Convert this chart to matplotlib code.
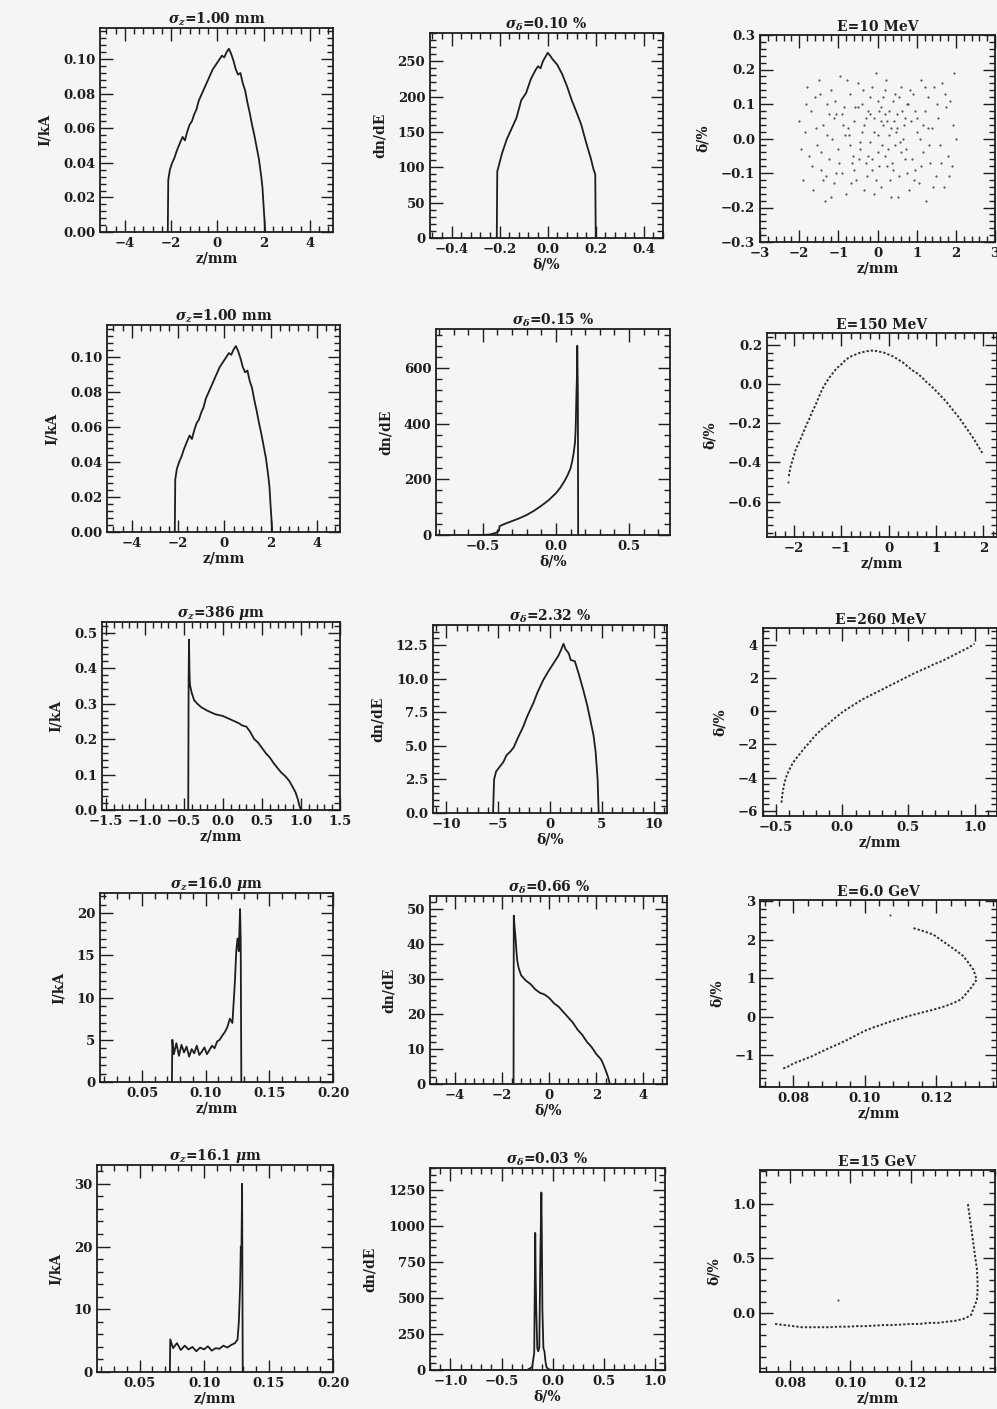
import matplotlib
matplotlib.use("Agg")
import matplotlib.pyplot as plt
from matplotlib.ticker import FixedLocator, MultipleLocator, FuncFormatter

plt.rcParams['font.family'] = ['DejaVu Serif']
plt.rcParams['font.weight'] = 'bold'
plt.rcParams['mathtext.fontset'] = 'dejavuserif'

INK = '#1e1e1e'
BG = '#f5f5f3'

# ---- row 1/2 left: initial current profile (sigma_z = 1 mm)
prof0_z = [-2.14, -2.12, -2.05, -1.95, -1.85, -1.75, -1.6, -1.5, -1.4, -1.3, -1.2, -1.1, -1.0, -0.9,
           -0.8, -0.7, -0.6, -0.5, -0.4, -0.3, -0.2, -0.1, 0.0, 0.1, 0.2, 0.3, 0.4, 0.5, 0.6, 0.7,
           0.8, 0.9, 1.0, 1.1, 1.2, 1.3, 1.4, 1.5, 1.6, 1.7, 1.8, 1.9, 1.95, 2.0, 2.05, 2.07]
prof0_i = [0.0, 0.03, 0.036, 0.040, 0.043, 0.047, 0.052, 0.055, 0.053, 0.058, 0.062, 0.064, 0.068,
           0.071, 0.076, 0.079, 0.082, 0.085, 0.088, 0.091, 0.094, 0.096, 0.098, 0.100, 0.102, 0.101,
           0.104, 0.106, 0.103, 0.099, 0.094, 0.091, 0.092, 0.086, 0.082, 0.075, 0.069, 0.062, 0.056,
           0.049, 0.042, 0.032, 0.026, 0.015, 0.005, 0.0]

# ---- row 1 middle: energy spread at 10 MeV
e10_d = [-0.212, -0.21, -0.19, -0.17, -0.15, -0.13, -0.11, -0.09, -0.07, -0.05, -0.04, -0.03, -0.02,
         -0.01, 0.0, 0.01, 0.02, 0.04, 0.06, 0.08, 0.10, 0.12, 0.14, 0.16, 0.18, 0.19, 0.198, 0.2]
e10_n = [0, 94, 120, 140, 155, 170, 195, 205, 225, 238, 243, 240, 250, 256, 262, 258, 253, 245, 232,
         215, 195, 178, 160, 135, 112, 98, 90, 0]

ps10_z = [-2.0, -1.9, -1.85, -1.8, -1.75, -1.7, -1.65, -1.6, -1.55, -1.5, -1.45, -1.4, -1.35, -1.3,
          -1.25, -1.2, -1.15, -1.1, -1.05, -1.0, -0.95, -0.9, -0.85, -0.8, -0.75, -0.7, -0.65, -0.6,
          -0.55, -0.5, -0.45, -0.4, -0.35, -0.3, -0.25, -0.2, -0.15, -0.1, -0.05, 0.0, 0.05, 0.1,
          0.15, 0.2, 0.25, 0.3, 0.35, 0.4, 0.45, 0.5, 0.55, 0.6, 0.65, 0.7, 0.75, 0.8, 0.85, 0.9,
          0.95, 1.0, 1.05, 1.1, 1.15, 1.2, 1.25, 1.3, 1.35, 1.4, 1.45, 1.5, 1.55, 1.6, 1.65, 1.7,
          1.75, 1.8, 1.85, 1.9, 1.95, 2.0,
          -1.95, -1.82, -1.68, -1.58, -1.47, -1.38, -1.28, -1.18, -1.08, -0.98, -0.88, -0.78, -0.68,
          -0.58, -0.48, -0.38, -0.28, -0.18, -0.08, 0.02, 0.12, 0.22, 0.32, 0.42, 0.52, 0.62, 0.72,
          0.82, 0.92, 1.02, 1.12, 1.22, 1.32, 1.42, 1.52, 1.62, 1.72, 1.82, 1.92,
          -0.9, -0.7, -0.5, -0.3, -0.1, 0.0, 0.1, 0.2, 0.3, 0.4, 0.5, 0.6, 0.7, -0.6, -0.4, -0.2,
          0.15, 0.35, 0.55, 0.75, 0.95, 1.15, -1.05, -1.25, -1.45, 0.05, 0.25, -0.05, 0.45, -0.15,
          -0.35, -0.15, 0.08, 0.28, 0.48, 0.68, -0.62, -0.82, 0.88, 1.08, 1.28, -1.12, -1.32,
          -0.25, 0.18, 0.38, 0.58, -0.45, 0.78, -0.72]
ps10_d = [0.05, -0.12, 0.02, 0.15, -0.05, 0.08, -0.15, 0.12, -0.02, 0.17, -0.09, 0.04, -0.18, 0.10,
          -0.06, 0.14, 0.0, -0.13, 0.07, -0.03, 0.18, -0.10, 0.09, -0.16, 0.03, 0.13, -0.07, 0.05,
          -0.12, 0.16, -0.01, 0.10, -0.15, 0.06, -0.05, 0.12, -0.09, 0.02, 0.19, -0.04, 0.08, -0.14,
          0.04, 0.14, -0.08, 0.01, -0.17, 0.11, -0.02, 0.07, -0.11, 0.15, 0.0, -0.06, 0.10, -0.15,
          0.05, 0.13, -0.09, 0.02, -0.13, 0.17, -0.04, 0.08, -0.18, 0.12, -0.07, 0.03, 0.15, -0.11,
          0.06, -0.02, 0.16, -0.14, 0.09, -0.05, 0.11, -0.08, 0.19, 0.0,
          -0.03, 0.10, -0.08, 0.03, 0.13, -0.12, 0.01, -0.17, 0.11, -0.07, 0.04, 0.17, -0.13, 0.09,
          -0.06, 0.14, -0.11, 0.07, -0.16, 0.11, -0.02, 0.17, -0.12, 0.05, -0.17, 0.08, -0.03, 0.14,
          -0.12, 0.06, -0.08, 0.15, -0.02, -0.14, 0.10, -0.07, 0.13, -0.11, 0.04,
          0.07, -0.02, 0.09, -0.07, 0.06, 0.01, 0.09, -0.05, 0.08, -0.09, 0.03, -0.04, 0.06, -0.09,
          0.02, -0.01, 0.12, 0.03, 0.12, -0.10, 0.08, 0.04, -0.10, 0.07, -0.04, -0.08, 0.05, -0.12,
          0.13, 0.15,
          0.04, -0.06, 0.05, -0.03, 0.02, 0.04, -0.05, 0.01, -0.06, 0.0, 0.03, 0.06, -0.11,
          0.08, 0.07, -0.07, -0.01, -0.03, 0.10, 0.01]

# ---- row 2 middle: energy spread at 150 MeV
e150_d = [-0.55, -0.5, -0.45, -0.41, -0.39, -0.385, -0.35, -0.3, -0.25, -0.2, -0.15, -0.1, -0.05,
          0.0, 0.03, 0.06, 0.08, 0.1, 0.11, 0.12, 0.13, 0.135, 0.14, 0.143, 0.146, 0.15, 0.152]
e150_n = [0, 0, 2, 8, 15, 32, 40, 50, 60, 72, 87, 105, 125, 150, 170, 195, 215, 240, 262, 290, 330,
          380, 500, 560, 680, 500, 0]

# ---- row 2 right: phase space at 150 MeV
ps150_z = [-2.11, -2.07, -2.02, -1.97, -1.92, -1.86, -1.80, -1.74, -1.68, -1.62, -1.55, -1.48,
           -1.41, -1.34, -1.26, -1.18, -1.10, -1.0, -0.9, -0.8, -0.7, -0.6, -0.5, -0.4, -0.3, -0.2,
           -0.1, 0.0, 0.1, 0.2, 0.3, 0.4, 0.5, 0.6, 0.7, 0.8, 0.9, 1.0, 1.1, 1.2, 1.3, 1.4, 1.5,
           1.6, 1.7, 1.8, 1.9, 2.0]
ps150_d = [-0.47, -0.42, -0.38, -0.34, -0.31, -0.28, -0.245, -0.21, -0.18, -0.145, -0.11,
           -0.07, -0.03, 0.0, 0.03, 0.055, 0.08, 0.10, 0.125, 0.14, 0.15, 0.16, 0.165, 0.17, 0.17,
           0.165, 0.16, 0.15, 0.14, 0.125, 0.11, 0.09, 0.07, 0.055, 0.035, 0.01, -0.01, -0.035,
           -0.06, -0.085, -0.115, -0.145, -0.175, -0.21, -0.245, -0.28, -0.32, -0.36]
ps150_stray_z = [-2.13]
ps150_stray_d = [-0.50]

# ---- row 3 left: current profile, sigma_z = 386 um
prof386_z = [-0.445, -0.44, -0.435, -0.43, -0.425, -0.42, -0.40, -0.37, -0.33, -0.28, -0.2, -0.1,
             0.0, 0.1, 0.2, 0.25, 0.3, 0.35, 0.4, 0.45, 0.5, 0.55, 0.6, 0.65, 0.7, 0.75, 0.8, 0.85,
             0.9, 0.93, 0.96, 0.98, 1.0]
prof386_i = [0, 0.36, 0.48, 0.40, 0.36, 0.35, 0.33, 0.31, 0.30, 0.29, 0.28, 0.27, 0.265, 0.255,
             0.245, 0.238, 0.235, 0.22, 0.20, 0.19, 0.175, 0.16, 0.148, 0.132, 0.118, 0.105, 0.095,
             0.082, 0.062, 0.05, 0.03, 0.012, 0.0]

# ---- row 3 middle: energy spread at 260 MeV
e260_d = [-5.5, -5.4, -5.2, -4.9, -4.5, -4.2, -3.8, -3.5, -3.1, -2.6, -2.2, -1.6, -1.2, -0.65,
          -0.2, 0.3, 0.8, 1.1, 1.3, 1.5, 1.8, 2.0, 2.4, 2.8, 3.2, 3.6, 3.9, 4.2, 4.4, 4.6, 4.7]
e260_n = [0, 2.5, 3.1, 3.4, 3.8, 4.3, 4.6, 4.9, 5.6, 6.4, 7.2, 8.2, 9.0, 9.9, 10.5, 11.1, 11.7,
          12.2, 12.6, 12.2, 11.9, 11.4, 11.3, 10.3, 9.2, 8.0, 6.9, 5.8, 4.6, 2.5, 0]

# ---- row 3 right: phase space at 260 MeV
ps260_z = [-0.46, -0.455, -0.45, -0.44, -0.43, -0.42, -0.40, -0.38, -0.36, -0.34, -0.31, -0.28,
           -0.25, -0.22, -0.19, -0.15, -0.11, -0.07, -0.03, 0.01, 0.05, 0.1, 0.15, 0.2, 0.25, 0.3,
           0.35, 0.4, 0.45, 0.5, 0.55, 0.6, 0.65, 0.7, 0.75, 0.8, 0.85, 0.9, 0.95, 1.0]
ps260_d = [-5.5, -5.1, -4.8, -4.4, -4.1, -3.85, -3.5, -3.2, -2.95, -2.75, -2.45, -2.15, -1.9, -1.6,
           -1.35, -1.05, -0.8, -0.5, -0.25, 0.0, 0.2, 0.45, 0.7, 0.9, 1.1, 1.3, 1.5, 1.7, 1.9, 2.1,
           2.3, 2.48, 2.65, 2.85, 3.0, 3.2, 3.4, 3.6, 3.8, 4.05]

# ---- row 4 left: current profile, sigma_z = 16.0 um
prof16_z = [0.0735, 0.0738, 0.075, 0.077, 0.079, 0.081, 0.083, 0.085, 0.087, 0.089, 0.091, 0.093,
            0.095, 0.097, 0.099, 0.101, 0.103, 0.105, 0.107, 0.109, 0.111, 0.113, 0.115, 0.117,
            0.119, 0.121, 0.122, 0.123, 0.124, 0.125, 0.126, 0.127, 0.1275, 0.128]
prof16_i = [0, 5.0, 3.3, 4.6, 3.1, 4.4, 3.5, 4.2, 3.0, 3.9, 3.4, 4.3, 3.2, 3.6, 4.1, 3.3, 3.8, 4.3,
            4.0, 4.8, 5.0, 5.5, 5.9, 6.5, 7.5, 7.0, 9.5, 12.0, 15.5, 17.0, 15.5, 20.5, 17.0, 0]

# ---- row 4 middle: energy spread at 6 GeV
e6_d = [-1.52, -1.51, -1.48, -1.44, -1.4, -1.36, -1.3, -1.2, -1.0, -0.8, -0.6, -0.4, -0.2, 0.0,
        0.2, 0.4, 0.6, 0.8, 1.0, 1.2, 1.4, 1.6, 1.8, 2.0, 2.2, 2.3, 2.4, 2.5, 2.57]
e6_n = [0, 48, 45, 42, 38, 35, 33, 31, 29.5, 28.5, 27, 26, 25.5, 24.5, 23, 22, 20.5, 19, 17.5, 15.5,
        14, 12, 10.5, 8.5, 7, 5.5, 3.8, 1.9, 0]

# ---- row 4 right: phase space at 6 GeV
ps6_z = [0.0772, 0.0785, 0.08, 0.0825, 0.085, 0.0875, 0.09, 0.0925, 0.095, 0.0975, 0.1, 0.1025,
         0.105, 0.1075, 0.11, 0.1125, 0.115, 0.1175, 0.12, 0.1225, 0.125, 0.127, 0.1285, 0.13,
         0.1313, 0.131, 0.1304, 0.129, 0.1276, 0.1258, 0.1238, 0.1215, 0.1192, 0.1165, 0.1136]
ps6_d = [-1.35, -1.3, -1.22, -1.13, -1.04, -0.93, -0.82, -0.72, -0.61, -0.49, -0.37, -0.28, -0.2,
         -0.12, -0.05, 0.02, 0.08, 0.14, 0.2, 0.27, 0.36, 0.45, 0.61, 0.78, 0.96, 1.05, 1.22, 1.4,
         1.57, 1.7, 1.83, 1.98, 2.13, 2.22, 2.3]
ps6_stray_z = [0.107]
ps6_stray_d = [2.65]

# ---- row 5 left: current profile, sigma_z = 16.1 um
prof161_z = [0.0735, 0.0738, 0.076, 0.079, 0.082, 0.085, 0.088, 0.091, 0.094, 0.097, 0.100, 0.103,
             0.106, 0.109, 0.112, 0.115, 0.118, 0.121, 0.124, 0.126, 0.127, 0.128, 0.1285, 0.129,
             0.1295, 0.13]
prof161_i = [0, 5.2, 3.8, 4.6, 3.5, 4.2, 3.6, 4.0, 3.3, 3.9, 3.6, 4.1, 3.4, 3.8, 3.7, 4.2, 3.9, 4.3,
             4.6, 5.2, 8.0, 14.0, 20.0, 19.0, 30.0, 0]

# ---- row 5 middle: energy spread at 15 GeV
e15_d = [-1.1, -0.25, -0.2, -0.18, -0.17, -0.165, -0.16, -0.15, -0.14, -0.13, -0.12, -0.11, -0.105,
         -0.1, -0.09, -0.08, -0.07, -0.06, -0.04, 0.0, 1.1]
e15_n = [0, 0, 20, 120, 950, 620, 420, 150, 130, 160, 800, 1230, 900, 420, 150, 130, 60, 20, 5, 0, 0]

# ---- row 5 right: phase space at 15 GeV
ps15_z = [0.075, 0.078, 0.081, 0.084, 0.087, 0.09, 0.093, 0.096, 0.099, 0.102, 0.105, 0.108, 0.111,
          0.114, 0.117, 0.12, 0.123, 0.126, 0.129, 0.132, 0.135, 0.138, 0.14, 0.141, 0.142, 0.1422,
          0.1422, 0.142, 0.1415, 0.141, 0.1405, 0.140, 0.1395, 0.139]
ps15_d = [-0.1, -0.11, -0.12, -0.13, -0.13, -0.13, -0.13, -0.125, -0.125, -0.12, -0.12, -0.115,
          -0.11, -0.11, -0.105, -0.1, -0.1, -0.09, -0.09, -0.08, -0.07, -0.05, -0.02, 0.05, 0.12,
          0.2, 0.3, 0.4, 0.5, 0.6, 0.7, 0.8, 0.9, 1.0]
ps15_stray_z = [0.096]
ps15_stray_d = [0.12]

titles = [
    [r'$\sigma_z$=1.00 mm', r'$\sigma_\delta$=0.10 %', 'E=10 MeV'],
    [r'$\sigma_z$=1.00 mm', r'$\sigma_\delta$=0.15 %', 'E=150 MeV'],
    [r'$\sigma_z$=386 $\mu$m', r'$\sigma_\delta$=2.32 %', 'E=260 MeV'],
    [r'$\sigma_z$=16.0 $\mu$m', r'$\sigma_\delta$=0.66 %', 'E=6.0 GeV'],
    [r'$\sigma_z$=16.1 $\mu$m', r'$\sigma_\delta$=0.03 %', 'E=15 GeV'],
]

# panel boxes in pixels: left, top, right, bottom
boxes = [
    [(100, 28, 333, 232), (430, 33, 663, 238), (760, 35, 995, 242)],
    [(107, 325, 340, 532), (436, 329, 670, 535), (767, 333, 997, 537)],
    [(102, 622, 340, 810), (433, 625, 667, 813), (763, 628, 997, 816)],
    [(100, 893, 333, 1082), (430, 896, 667, 1084), (760, 900, 997, 1087)],
    [(97, 1165, 333, 1372), (430, 1168, 665, 1370), (760, 1170, 995, 1372)],
]

# (xlim, ylim, xticks, yticks, xdecimals, ydecimals)
axes_cfg = [
    [((-5.07, 5.0), (0, 0.118), [-4, -2, 0, 2, 4], [0, .02, .04, .06, .08, .10], 0, 2),
     ((-0.49, 0.48), (0, 290), [-.4, -.2, 0, .2, .4], [0, 50, 100, 150, 200, 250], 1, 0),
     ((-3, 3), (-0.3, 0.3), [-3, -2, -1, 0, 1, 2, 3], [-.3, -.2, -.1, 0, .1, .2, .3], 0, 1)],
    [((-5.07, 5.0), (0, 0.118), [-4, -2, 0, 2, 4], [0, .02, .04, .06, .08, .10], 0, 2),
     ((-0.82, 0.78), (0, 740), [-.5, 0, .5], [0, 200, 400, 600], 1, 0),
     ((-2.57, 2.29), (-0.78, 0.26), [-2, -1, 0, 1, 2], [-.6, -.4, -.2, 0, .2], 0, 1)],
    [((-1.55, 1.5), (0, 0.53), [-1.5, -1, -.5, 0, .5, 1, 1.5], [0, .1, .2, .3, .4, .5], 1, 1),
     ((-11.3, 11.3), (0, 14), [-10, -5, 0, 5, 10], [0, 2.5, 5, 7.5, 10, 12.5], 0, 1),
     ((-0.6, 1.17), (-6.3, 5.0), [-.5, 0, .5, 1], [-6, -4, -2, 0, 2, 4], 1, 0)],
    [((0.017, 0.2), (0, 22.4), [.05, .10, .15, .20], [0, 5, 10, 15, 20], 2, 0),
     ((-5.07, 5.0), (0, 53.6), [-4, -2, 0, 2, 4], [0, 10, 20, 30, 40, 50], 0, 0),
     ((0.0707, 0.137), (-1.83, 3.03), [.08, .10, .12], [-1, 0, 1, 2, 3], 2, 0)],
    [((0.017, 0.2), (0, 33), [.05, .10, .15, .20], [0, 10, 20, 30], 2, 0),
     ((-1.2, 1.1), (0, 1400), [-1, -.5, 0, .5, 1], [0, 250, 500, 750, 1000, 1250], 1, 0),
     ((0.07, 0.148), (-0.54, 1.31), [.08, .10, .12], [0, .5, 1.0], 2, 1)],
]

xlabels = ['z/mm', 'δ/%', 'z/mm']
ylabels = ['I/kA', 'dn/dE', 'δ/%']

lines = [
    [(prof0_z, prof0_i), (e10_d, e10_n), (ps10_z, ps10_d)],
    [(prof0_z, prof0_i), (e150_d, e150_n), (ps150_z, ps150_d)],
    [(prof386_z, prof386_i), (e260_d, e260_n), (ps260_z, ps260_d)],
    [(prof16_z, prof16_i), (e6_d, e6_n), (ps6_z, ps6_d)],
    [(prof161_z, prof161_i), (e15_d, e15_n), (ps15_z, ps15_d)],
]
strays = {1: (ps150_stray_z, ps150_stray_d), 3: (ps6_stray_z, ps6_stray_d),
          4: (ps15_stray_z, ps15_stray_d)}


def fmt(decimals):
    return FuncFormatter(lambda v, p: f'{v:.{decimals}f}'.replace('-', '\u2212'))


W, H = 997, 1409
fig = plt.figure(figsize=(W / 100, H / 100), dpi=100, facecolor=BG)

for r in range(5):
    for c in range(3):
        l, t, rr, b = boxes[r][c]
        ax = fig.add_axes([l / W, 1 - b / H, (rr - l) / W, (b - t) / H], facecolor=BG)
        xlim, ylim, xt, yt, xd, yd = axes_cfg[r][c]
        xs, ys = lines[r][c]
        if c < 2:
            ax.plot(xs, ys, color=INK, lw=1.3)
        elif r == 0:
            ax.plot(xs, ys, ls='none', marker='o', ms=1.6, mfc='#555555', mec='none')
        else:
            # dense particle band: dotted trace through the read-off points
            ax.plot(xs, ys, color='#333333', lw=1.4, ls=(0, (1.2, 1.0)))
            if r in strays:
                ax.plot(*strays[r], ls='none', marker='o', ms=1.6, mfc='#555555', mec='none')
        ax.set_xlim(*xlim)
        ax.set_ylim(*ylim)
        ax.xaxis.set_major_locator(FixedLocator(xt))
        ax.yaxis.set_major_locator(FixedLocator(yt))
        ax.xaxis.set_minor_locator(MultipleLocator((xt[1] - xt[0]) / 5))
        ax.yaxis.set_minor_locator(MultipleLocator((yt[1] - yt[0]) / 5))
        ax.xaxis.set_major_formatter(fmt(xd))
        ax.yaxis.set_major_formatter(fmt(yd))
        ax.tick_params(which='both', direction='in', top=True, right=True, colors=INK,
                       labelsize=9.5, width=1.0)
        ax.tick_params(which='major', length=9)
        ax.tick_params(which='minor', length=4)
        for lab in ax.get_xticklabels() + ax.get_yticklabels():
            lab.set_fontweight('bold')
        for s in ax.spines.values():
            s.set_linewidth(1.3)
            s.set_color(INK)
        ax.set_title(titles[r][c], fontsize=10, fontweight='bold', color=INK, pad=3)
        ax.set_xlabel(xlabels[c], fontsize=10, fontweight='bold', color=INK, labelpad=1)
        ax.set_ylabel(ylabels[c], fontsize=10, fontweight='bold', color=INK, labelpad=8)

fig.savefig('out.png', dpi=100, facecolor=BG)
